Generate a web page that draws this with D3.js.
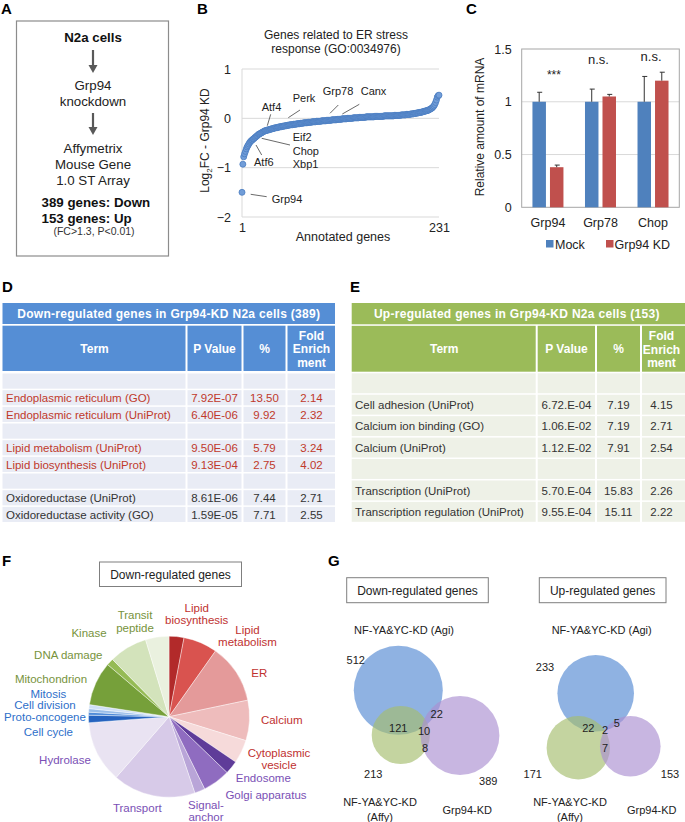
<!DOCTYPE html>
<html><head><meta charset="utf-8">
<script src="https://cdn.jsdelivr.net/npm/d3@7"></script>
<style>
body{margin:0;background:#fff}
svg{display:block}
text{font-family:"Liberation Sans",Arial,Helvetica,sans-serif}
</style>
</head><body>
<svg id="fig" width="685" height="822"></svg>
<script>
// ================= DATA =================
// Panel A
const aLines = ["N2a cells","Grp94","knockdown","Affymetrix","Mouse Gene","1.0 ST Array","389 genes: Down","153 genes: Up","(FC>1.3, P<0.01)"];

// Panel B : sorted log2FC of 231 annotated ER-stress genes
const bValues = [
-1.50,-0.93,-0.78,-0.72,-0.67,-0.62,-0.58,-0.55,-0.52,-0.49,
-0.47,-0.45,-0.44,-0.42,-0.41,-0.39,-0.38,-0.36,-0.35,-0.33,
-0.32,-0.31,-0.30,-0.29,-0.28,-0.27,
-0.26,-0.25,-0.25,-0.24,-0.24,-0.23,-0.23,-0.22,-0.22,
-0.21,-0.21,-0.20,-0.20,-0.19,-0.19,-0.19,-0.18,-0.18,-0.17,
-0.17,-0.17,-0.16,-0.16,-0.16,-0.15,-0.15,-0.15,-0.14,-0.14,
-0.14,-0.13,-0.13,-0.13,-0.13,-0.12,-0.12,-0.12,-0.12,-0.11,
-0.11,-0.11,-0.11,-0.10,-0.10,-0.10,-0.10,-0.09,-0.09,-0.09,
-0.09,-0.09,-0.08,-0.08,-0.08,-0.08,-0.08,-0.07,-0.07,-0.07,
-0.07,-0.07,-0.06,-0.06,-0.06,-0.06,-0.06,-0.06,-0.05,-0.05,
-0.05,-0.05,-0.05,-0.05,-0.04,-0.04,-0.04,-0.04,-0.04,-0.04,
-0.03,-0.03,-0.03,-0.03,-0.03,-0.03,-0.02,-0.02,-0.02,-0.02,
-0.02,-0.02,-0.01,-0.01,-0.01,-0.01,-0.01,-0.01,0.00,0.00,
0.00,0.00,0.00,0.00,0.00,0.01,0.01,0.01,0.01,0.01,
0.01,0.01,0.02,0.02,0.02,0.02,0.02,0.02,0.02,0.02,
0.03,0.03,0.03,0.03,0.03,0.03,0.03,0.03,0.03,0.03,
0.04,0.04,0.04,0.04,0.04,0.04,0.04,0.04,0.04,0.04,
0.04,0.05,0.05,0.05,0.05,0.05,0.05,0.05,0.05,0.05,
0.05,0.05,0.05,0.06,0.06,0.06,0.06,0.06,0.06,0.06,
0.06,0.07,0.07,0.07,0.07,0.07,0.07,0.08,0.08,0.08,
0.08,0.08,0.09,0.09,0.09,0.09,0.10,0.10,0.10,0.11,
0.11,0.11,0.12,0.12,0.12,0.13,0.13,0.14,0.14,0.15,
0.15,0.16,0.16,0.17,0.18,0.19,0.20,0.21,0.23,0.25,
0.28,0.32,0.37,0.43,0.46,0.47];
const bYTicks = [1,0,-1,-2];
const bXTicks = [1,231];
const bTitle = ["Genes related to ER stress","response (GO:0034976)"];
const bGeneLabels = ["Atf4","Perk","Grp78","Canx","Eif2","Chop","Xbp1","Atf6","Grp94"];

// Panel C
const cCategories = ["Grp94","Grp78","Chop"];
const cSeries = ["Mock","Grp94 KD"];
const cMock = [1.00,1.00,1.00];
const cMockErr = [0.09,0.12,0.24];
const cKD = [0.38,1.05,1.20];
const cKDErr = [0.02,0.02,0.08];
const cSignif = ["***","n.s.","n.s."];
const cYTicks = [0,0.5,1,1.5];

// Panel D
const dTitle = "Down-regulated genes in Grp94-KD N2a cells (389)";
const tableHeaders = ["Term","P Value","%",["Fold","Enrich","ment"]];
const dTerms = ["","Endoplasmic reticulum (GO)","Endoplasmic reticulum (UniProt)","","Lipid metabolism (UniProt)","Lipid biosynthesis (UniProt)","","Oxidoreductase (UniProt)","Oxidoreductase activity (GO)"];
const dPValues = ["","7.92E-07","6.40E-06","","9.50E-06","9.13E-04","","8.61E-06","1.59E-05"];
const dPercent = ["","13.50","9.92","","5.79","2.75","","7.44","7.71"];
const dFold = ["","2.14","2.32","","3.24","4.02","","2.71","2.55"];
const dHighlight = [0,1,1,0,1,1,0,0,0];

// Panel E
const eTitle = "Up-regulated genes in Grp94-KD N2a cells (153)";
const eTerms = ["","Cell adhesion (UniProt)","Calcium ion binding (GO)","Calcium (UniProt)","","Transcription (UniProt)","Transcription regulation (UniProt)"];
const ePValues = ["","6.72.E-04","1.06.E-02","1.12.E-02","","5.70.E-04","9.55.E-04"];
const ePercent = ["","7.19","7.19","7.91","","15.83","15.11"];
const eFold = ["","4.15","2.71","2.54","","2.26","2.22"];

// Panel F (share of down-regulated genes, %)
const fTitle = "Down-regulated genes";
const fLabels = ["Lipid biosynthesis","Lipid metabolism","ER","Calcium","Cytoplasmic vesicle","Endosome","Golgi apparatus","Signal-anchor","Transport","Hydrolase","Cell cycle","Proto-oncogene","Cell division","Mitosis","Mitochondrion","DNA damage","Kinase","Transit peptide"];
const fValues = [3.0,6.8,11.9,8.1,4.7,2.7,5.5,2.1,16.6,12.4,1.5,0.6,0.7,0.8,8.8,1.4,7.7,4.7];
const fGroups = ["red","red","red","red","red","purple","purple","purple","purple","purple","blue","blue","blue","blue","green","green","green","green"];

// Panel G
const gTitles = ["Down-regulated genes","Up-regulated genes"];
const gSetNames = ["NF-YA&YC-KD (Agi)","NF-YA&YC-KD (Affy)","Grp94-KD"];
const gDownTotals = [512,213,389];
const gDownOverlaps = [121,22,10,8];   // Agi∩Affy, Agi∩Grp94, all three, Affy∩Grp94
const gUpTotals = [233,171,153];
const gUpOverlaps = [22,5,2,7];

// ================= DRAWING =================
const svg = d3.select("#fig");
const FONT = '"Liberation Sans", Arial, Helvetica, sans-serif';

function label(g, x, y, s, o = {}) {
  return g.append("text").attr("x", x).attr("y", y)
    .attr("font-size", o.size || 12)
    .attr("font-weight", o.bold ? "bold" : null)
    .attr("fill", o.fill || "#222")
    .attr("text-anchor", o.anchor || "middle")
    .text(s);
}

// Panel letters
[["A",1,14],["B",197,14],["C",466,14],["D",2,292],["E",350,292],["F",2,566],["G",328,566]]
  .forEach(([t,x,y]) => label(svg, x, y, t, {size: 15, bold: true, anchor: "start", fill: "#000"}));

// ---------- Panel A ----------
{
  const g = svg.append("g");
  g.append("rect").attr("x",16.5).attr("y",21).attr("width",152).attr("height",235)
    .attr("fill","none").attr("stroke","#8c8c8c").attr("stroke-width",1.2);
  const cx = 93;
  label(g, cx, 42, aLines[0], {size:13.3, bold:true, fill:"#111"});
  const arrow = (y1, y2) => {
    g.append("line").attr("x1",cx).attr("x2",cx).attr("y1",y1).attr("y2",y2-6).attr("stroke","#595959").attr("stroke-width",2.2);
    g.append("path").attr("d",`M${cx-4.5},${y2-8} L${cx+4.5},${y2-8} L${cx},${y2} Z`).attr("fill","#595959");
  };
  arrow(50, 73);
  label(g, cx, 90, aLines[1], {size:13.3});
  label(g, cx, 106, aLines[2], {size:13.3});
  arrow(113, 135);
  label(g, cx, 153, aLines[3], {size:13.3});
  label(g, cx, 169, aLines[4], {size:13.3});
  label(g, cx, 185, aLines[5], {size:13.3});
  label(g, 41.5, 206.5, aLines[6], {size:13.3, bold:true, anchor:"start", fill:"#111"});
  label(g, 41.5, 223, aLines[7], {size:13.3, bold:true, anchor:"start", fill:"#111"});
  label(g, 94, 235, aLines[8], {size:10.5, fill:"#333"});
}

// ---------- Panel B ----------
{
  const g = svg.append("g");
  const x = d3.scaleLinear().domain([1,231]).range([242,439]);
  const y = d3.scaleLinear().domain([-2,1]).range([217,69]);
  g.selectAll("line.grid").data(bYTicks).join("line")
    .attr("x1",x(1)).attr("x2",x(231)).attr("y1",d=>y(d)).attr("y2",d=>y(d))
    .attr("stroke","#d9d9d9").attr("stroke-width",1);
  g.append("line").attr("x1",x(1)).attr("x2",x(1)).attr("y1",y(1)).attr("y2",y(-2))
    .attr("stroke","#d9d9d9").attr("stroke-width",1);
  const ya = g.append("g").attr("transform",`translate(${x(1)},0)`)
    .call(d3.axisLeft(y).tickValues(bYTicks).tickFormat(d3.format("d")).tickSize(0).tickPadding(11));
  ya.select(".domain").remove();
  ya.selectAll("text").attr("font-size",12.5).attr("fill","#222").attr("font-family",FONT);
  const xa = g.append("g").attr("transform",`translate(0,${y(-2)})`)
    .call(d3.axisBottom(x).tickValues(bXTicks).tickFormat(d3.format("d")).tickSize(0).tickPadding(6));
  xa.select(".domain").remove();
  xa.selectAll("text").attr("font-size",12.5).attr("fill","#222").attr("font-family",FONT);
  label(g, 343, 240.5, "Annotated genes", {size:12.5});
  label(g, 336, 38.5, bTitle[0], {size:12});
  label(g, 336, 52.5, bTitle[1], {size:12});
  const yl = g.append("text").attr("transform","translate(209,140.5) rotate(-90)")
    .attr("text-anchor","middle").attr("font-size",12).attr("fill","#222");
  yl.append("tspan").text("Log");
  yl.append("tspan").attr("font-size",8).attr("dy",3).text("2");
  yl.append("tspan").attr("dy",-3).text("FC - Grp94 KD");

  // leader lines and gene labels
  const ann = [
    {t:0, tx:261.7, ty:110.5, l:[270.7,114.3,267.3,125.7]},
    {t:1, tx:292.7, ty:102, l:[300,110,288.3,117.7]},
    {t:2, tx:322.7, ty:95, l:[338.3,105,330,113.3]},
    {t:3, tx:360.7, ty:95, l:[359.3,104.3,342.3,114]},
    {t:4, tx:292.7, ty:140.5, l:null},
    {t:5, tx:292.7, ty:154.5, l:[290,145,261.7,138.3]},
    {t:6, tx:292.7, ty:167.5, l:null},
    {t:7, tx:254, ty:165.5, l:[261.7,155,256,145]},
    {t:8, tx:271.7, ty:203, l:[266.7,196.7,250.7,194.3]}
  ];
  ann.forEach(a => {
    if (a.l) g.append("line").attr("x1",a.l[0]).attr("y1",a.l[1]).attr("x2",a.l[2]).attr("y2",a.l[3])
      .attr("stroke","#595959").attr("stroke-width",0.9);
    label(g, a.tx, a.ty, bGeneLabels[a.t], {size:11, anchor:"start"});
  });

  g.selectAll("circle.pt").data(bValues).join("circle").attr("class","pt")
    .attr("cx",(d,i)=>x(i+1)).attr("cy",d=>y(d)).attr("r",3)
    .attr("fill","#719dd8").attr("stroke","#4a7cc0").attr("stroke-width",0.8);
}

// ---------- Panel C ----------
{
  const g = svg.append("g");
  const x = d3.scaleBand().domain(cCategories).range([521.7,679.3]);
  const xs = d3.scaleBand().domain(cSeries).range([10.75,41.75]).paddingInner(0.23);
  const y = d3.scaleLinear().domain([0,1.5]).range([207.3,49]);
  g.selectAll("line.grid").data([0.5,1]).join("line")
    .attr("x1",x.range()[0]).attr("x2",x.range()[1]).attr("y1",d=>y(d)).attr("y2",d=>y(d))
    .attr("stroke","#d9d9d9");
  g.append("rect").attr("x",x.range()[0]).attr("y",y(1.5)).attr("width",x.range()[1]-x.range()[0])
    .attr("height",y(0)-y(1.5)).attr("fill","none").attr("stroke","#a6a6a6").attr("stroke-width",1);
  const ya = g.append("g").attr("transform",`translate(${x.range()[0]},0)`)
    .call(d3.axisLeft(y).tickValues(cYTicks).tickFormat(d=>String(d)).tickSize(0).tickPadding(10));
  ya.select(".domain").remove();
  ya.selectAll("text").attr("font-size",12.5).attr("fill","#222").attr("font-family",FONT);
  const xa = g.append("g").attr("transform",`translate(0,${y(0)})`)
    .call(d3.axisBottom(x).tickSize(0).tickPadding(11));
  xa.select(".domain").remove();
  xa.selectAll("text").attr("font-size",12.5).attr("fill","#222").attr("font-family",FONT);

  const colors = {"Mock":"#4f81bd","Grp94 KD":"#c0504d"};
  const rows = [];
  cCategories.forEach((c,i) => {
    rows.push({c, s:cSeries[0], v:cMock[i], e:cMockErr[i]});
    rows.push({c, s:cSeries[1], v:cKD[i], e:cKDErr[i]});
  });
  g.selectAll("rect.bar").data(rows).join("rect").attr("class","bar")
    .attr("x",d=>x(d.c)+xs(d.s)).attr("width",xs.bandwidth())
    .attr("y",d=>y(d.v)).attr("height",d=>y(0)-y(d.v)).attr("fill",d=>colors[d.s]);
  rows.forEach(d => {
    const cx = x(d.c)+xs(d.s)+xs.bandwidth()/2;
    g.append("line").attr("x1",cx).attr("x2",cx).attr("y1",y(d.v)).attr("y2",y(d.v+d.e))
      .attr("stroke","#333").attr("stroke-width",1);
    g.append("line").attr("x1",cx-2).attr("x2",cx+3).attr("y1",y(d.v+d.e)).attr("y2",y(d.v+d.e))
      .attr("stroke","#333").attr("stroke-width",1);
  });
  const sigY = [79, 64, 61];
  cCategories.forEach((c,i) => label(g, x(c)+x.bandwidth()/2 + (i===0?6:-2), sigY[i], cSignif[i], {size: i===0?12:13}));
  // legend
  const lg = [[546,555],[606,614.5]];
  cSeries.forEach((s,i) => {
    g.append("rect").attr("x",lg[i][0]).attr("y",240).attr("width",7.5).attr("height",7.5).attr("fill",colors[s]);
    label(g, lg[i][1], 248.5, s, {size:12.5, anchor:"start"});
  });
  g.append("text").attr("transform","translate(484,127) rotate(-90)").attr("text-anchor","middle")
    .attr("font-size",12).attr("fill","#222").text("Relative amount of mRNA");
}

// ---------- Tables D & E ----------
function drawTable(cfg) {
  const g = svg.append("g");
  const e = cfg.edges, x0 = e[0], x1 = e[e.length-1];
  g.append("rect").attr("x",x0).attr("y",cfg.titleY[0]).attr("width",x1-x0).attr("height",cfg.titleY[1]-cfg.titleY[0]).attr("fill",cfg.head);
  label(g, (x0+x1)/2 + (cfg.titleDx||0), cfg.titleY[0]+15, cfg.title, {size:12, bold:true, fill:"#fff"}).attr("letter-spacing",0.3);
  for (let i=0;i<4;i++) {
    g.append("rect").attr("x",e[i]+(i?1:0)).attr("y",cfg.headY[0]).attr("width",e[i+1]-e[i]-(i?1:0)-(i<3?1:0))
      .attr("height",cfg.headY[1]-cfg.headY[0]).attr("fill",cfg.head);
    const h = tableHeaders[i];
    if (Array.isArray(h)) {
      h.forEach((t,j) => label(g, cfg.centers[i], cfg.headY[0]+14+j*13.7, t, {size:12, bold:true, fill:"#fff"}));
    } else {
      label(g, cfg.centers[i], (cfg.headY[0]+cfg.headY[1])/2+4.3, h, {size:12, bold:true, fill:"#fff"});
    }
  }
  const cols = cfg.cols;
  for (let r=0;r<cfg.n;r++) {
    const top = cfg.bodyTop + r*cfg.pitch;
    for (let i=0;i<4;i++) {
      g.append("rect").attr("x",e[i]+(i?1:0)).attr("y",top).attr("width",e[i+1]-e[i]-(i?1:0)-(i<3?1:0))
        .attr("height",cfg.pitch-1.5).attr("fill",cfg.body);
    }
    const fill = (cfg.hl && cfg.hl[r]) ? "#c0392b" : "#333";
    const cy = top + (cfg.pitch-1.5)/2 + 4.1;
    label(g, cfg.termX, cy, cols[0][r], {size:11.5, anchor:"start", fill});
    for (let i=1;i<4;i++) label(g, cfg.centers[i], cy, cols[i][r], {size:11.5, fill});
  }
}
drawTable({edges:[2.5,186.5,242.5,286.5,335], centers:[94.5,214.5,264.5,311.5], head:"#558ed5", body:"#e9ecf5",
  title:dTitle, titleY:[303,324], headY:[325.7,371], bodyTop:373.5, pitch:16.67, n:9, termX:6,
  cols:[dTerms,dPValues,dPercent,dFold], hl:dHighlight});
drawTable({edges:[351.7,536.7,596,641,685], centers:[444.2,566.5,618.5,661.5], head:"#9bbb59", body:"#eef1e7",
  title:eTitle, titleY:[303,324.3], headY:[325.8,371.7], bodyTop:373.3, pitch:21.43, n:7, termX:355, titleDx:-1.5,
  cols:[eTerms,ePValues,ePercent,eFold]});

// ---------- Panel F : pie ----------
{
  const g = svg.append("g");
  g.append("rect").attr("x",99.5).attr("y",562).attr("width",142).attr("height",24.5)
    .attr("fill","#fff").attr("stroke","#7f7f7f").attr("stroke-width",1);
  label(g, 170.5, 578.5, fTitle, {size:12});
  const sliceColors = ["#b22a2a","#d9534f","#e49a9a","#eebcbc","#f6dada","#5f3c99","#8f6cc0","#b9a5d8","#d7cae8","#e9e3f2",
                       "#2563bf","#4f8bd8","#98bde9","#cfe0f6","#76a03a","#95bb55","#d3e3bb","#eaf1df"];
  const pie = d3.pie().sort(null).value(d=>d)(fValues);
  const arc = d3.arc().innerRadius(0).outerRadius(80.5);
  const pg = g.append("g").attr("transform","translate(169,716.7)");
  pg.selectAll("path").data(pie).join("path").attr("d",arc).attr("fill",(d,i)=>sliceColors[i])
    .attr("stroke","#fff").attr("stroke-width",0.4);
  const groupColor = {red:"#c0312f", purple:"#7a4fb5", blue:"#2e6fca", green:"#77933c"};
  const pos = [
    {x:196.7, y:[611.5,624], lines:["Lipid","biosynthesis"]},
    {x:247.5, y:[633.5,646], lines:["Lipid","metabolism"]},
    {x:259.3, y:[677], lines:["ER"]},
    {x:281.7, y:[724], lines:["Calcium"]},
    {x:279, y:[757,769], lines:["Cytoplasmic","vesicle"]},
    {x:263.3, y:[781.5], lines:["Endosome"]},
    {x:266, y:[798.5], lines:["Golgi apparatus"]},
    {x:206, y:[808.5,821], lines:["Signal-","anchor"]},
    {x:137.3, y:[812], lines:["Transport"]},
    {x:65, y:[763.5], lines:["Hydrolase"]},
    {x:48.3, y:[736], lines:["Cell cycle"]},
    {x:45, y:[721], lines:["Proto-oncogene"]},
    {x:45, y:[709], lines:["Cell division"]},
    {x:48.3, y:[697.5], lines:["Mitosis"]},
    {x:51, y:[682.5], lines:["Mitochondrion"]},
    {x:68.3, y:[659], lines:["DNA damage"]},
    {x:89, y:[636.5], lines:["Kinase"]},
    {x:135, y:[619,631.5], lines:["Transit","peptide"]}
  ];
  fLabels.forEach((lab,i) => {
    pos[i].lines.forEach((t,j) => label(g, pos[i].x, pos[i].y[j], t, {size:11.5, fill:groupColor[fGroups[i]]}));
  });
}

// ---------- Panel G : Venn ----------
{
  const g = svg.append("g");
  const boxes = [[346.7,141.6],[539.3,126.7]];
  boxes.forEach((b,i) => {
    g.append("rect").attr("x",b[0]).attr("y",577.7).attr("width",b[1]).attr("height",25)
      .attr("fill","#fff").attr("stroke","#7f7f7f").attr("stroke-width",1);
    label(g, b[0]+b[1]/2, 594.5, gTitles[i], {size:12});
  });
  const fills = ["#5389d2","#a4bd6d","#aa8fd1"];
  const venn = (circles, totals, overlaps, tpos, opos, lab) => {
    circles.forEach((c,i) => g.append("circle").attr("cx",c[0]).attr("cy",c[1]).attr("r",c[2])
      .attr("fill",fills[i]).attr("fill-opacity",0.65));
    totals.forEach((t,i) => label(g, tpos[i][0], tpos[i][1], t, {size:11}));
    overlaps.forEach((t,i) => label(g, opos[i][0], opos[i][1], t, {size:11}));
    label(g, lab[0][0], lab[0][1], gSetNames[0], {size:11});
    const affy = gSetNames[1].split(" ");
    label(g, lab[1][0], lab[1][1], affy[0], {size:11});
    label(g, lab[1][0], lab[1][1]+15, affy[1], {size:11});
    label(g, lab[2][0], lab[2][1], gSetNames[2], {size:11});
  };
  venn([[398.3,690.3,44.5],[400.8,735,29.1],[460,735.5,39.4]], gDownTotals, gDownOverlaps,
       [[355.7,664],[373.3,778],[488.3,785]], [[398.3,731.5],[436.7,718.3],[424,734.5],[425,751.5]],
       [[404,634],[380,805.5],[467.3,814]]);
  venn([[595.7,693.3,38.3],[578.3,747.7,31.7],[630.3,746.3,30.3]], gUpTotals, gUpOverlaps,
       [[545,671.3],[532.7,778.3],[670,778.3]], [[588.3,732.3],[616.7,726.7],[605,734],[605,751.7]],
       [[601.7,634],[570,805.5],[651.7,814]]);
}
</script>
</body></html>
